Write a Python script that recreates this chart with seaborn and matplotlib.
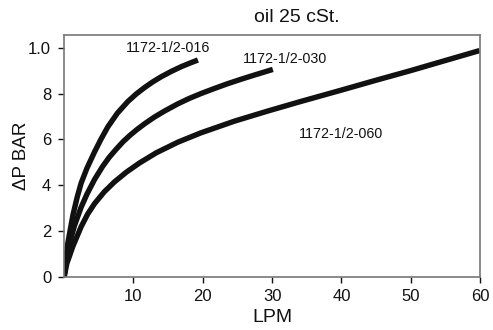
import numpy as np
import pandas as pd
import matplotlib
matplotlib.use("Agg")
import matplotlib.pyplot as plt
import seaborn as sns

# flow (LPM) vs pressure drop (BAR), oil 25 cSt
lpm_016 = [0, 0.2, 0.55, 1.27, 1.9, 2.46, 3.3, 4.38, 5.3, 6.31, 7.7, 9.19, 10.4, 11.6, 12.8, 14.0, 15.5, 16.9, 18.1, 19.3]
bar_016 = [0, 0.7, 1.5, 2.7, 3.5, 4.1, 4.75, 5.45, 6.0, 6.55, 7.15, 7.65, 7.98, 8.26, 8.51, 8.73, 8.97, 9.17, 9.32, 9.46]

lpm_030 = [0, 0.3, 0.8, 1.5, 2.46, 3.3, 4.38, 5.5, 6.5, 7.5, 8.5, 9.5, 10.5, 11.6, 13.0, 14.5, 16.4, 18.0,
           19.75, 21.5, 23.5, 25.5, 27.5, 30.1]
bar_030 = [0, 0.8, 1.5, 2.25, 3.05, 3.62, 4.25, 4.8, 5.22, 5.57, 5.9, 6.18, 6.43, 6.68, 6.97, 7.24, 7.55, 7.78,
           8.0, 8.2, 8.42, 8.62, 8.81, 9.05]

lpm_060 = [0, 0.4, 1.27, 2.46, 3.4, 4.38, 5.8, 7.26, 9.0, 10.9, 13.3, 16.4, 19.75, 24.6, 29.4, 34.2, 40.0,
           45.0, 50.0, 55.0, 59.9]
bar_060 = [0, 0.6, 1.35, 2.2, 2.75, 3.2, 3.72, 4.15, 4.58, 4.98, 5.42, 5.88, 6.29, 6.8, 7.24, 7.66, 8.15,
           8.58, 9.0, 9.44, 9.87]

names = ["1172-1/2-016", "1172-1/2-030", "1172-1/2-060"]
y_ticks = [0, 2, 4, 6, 8, 10]
y_ticklabels = ["0", "2", "4", "6", "8", "1.0"]
x_ticks = [10, 20, 30, 40, 50, 60]

frames = []
for name, xs, ys in zip(names, [lpm_016, lpm_030, lpm_060], [bar_016, bar_030, bar_060]):
    frames.append(pd.DataFrame({"LPM": xs, "BAR": ys, "model": name}))
df = pd.concat(frames, ignore_index=True)

sns.set_style("white")
plt.rcParams["font.family"] = ["Liberation Sans", "DejaVu Sans"]
plt.rcParams["text.color"] = "#111111"
plt.rcParams["axes.labelcolor"] = "#111111"
plt.rcParams["xtick.color"] = "#111111"
plt.rcParams["ytick.color"] = "#111111"

fig = plt.figure(figsize=(4.93, 3.3), dpi=100)
ax = fig.add_axes([0.13, 0.16, 0.844, 0.734])

sns.lineplot(data=df, x="LPM", y="BAR", units="model", estimator=None, sort=False,
             color="#111111", linewidth=3.9, solid_capstyle="butt", ax=ax, legend=False)

ax.set_xlim(0, 60)
ax.set_ylim(0, 10.55)
ax.set_xticks(x_ticks)
ax.set_yticks(y_ticks)
ax.set_yticklabels(y_ticklabels)
ax.tick_params(axis="x", bottom=True, direction="out", length=4.3, width=1, labelsize=12, pad=4)
ax.tick_params(axis="y", left=True, direction="out", length=4.3, width=1, labelsize=12, pad=5)
for s in ax.spines.values():
    s.set_color("#777777")
    s.set_linewidth(1.2)

ax.set_xlabel("LPM", fontsize=14, labelpad=4)
ax.set_ylabel("\u0394P BAR", fontsize=13.5, labelpad=-1)

ax.text(15.0, 10.0, names[0], fontsize=10.3, ha="center", va="center")
ax.text(31.8, 9.51, names[1], fontsize=10.3, ha="center", va="center")
ax.text(40.0, 6.24, names[2], fontsize=10.3, ha="center", va="center")
ax.text(33.6, 11.3, "oil 25 cSt.", fontsize=14, ha="center", va="center")

fig.savefig("out.png", dpi=100)
